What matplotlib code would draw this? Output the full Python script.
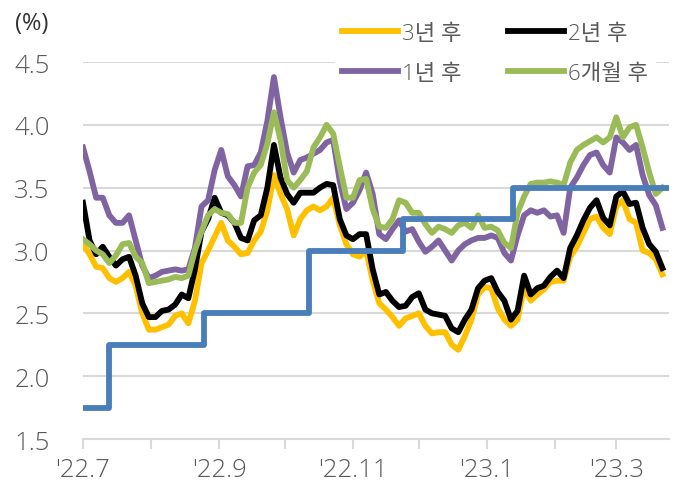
import matplotlib
matplotlib.use('Agg')
import matplotlib.pyplot as plt
import pandas as pd

plt.rcParams['font.family'] = ['Open Sans', 'Noto Sans CJK KR', 'DejaVu Sans']
plt.rcParams['font.weight'] = 'light'

#======================= data =======================
dates = pd.date_range('2022-07-01', periods=89, freq='3D')

y3 = [3.05, 2.97, 2.87, 2.86, 2.78, 2.75, 2.78, 2.83, 2.72, 2.50,
      2.37, 2.37, 2.39, 2.41, 2.48, 2.50, 2.42, 2.60, 2.90, 3.00,
      3.11, 3.22, 3.08, 3.03, 2.97, 2.98, 3.08, 3.15, 3.32, 3.60,
      3.45, 3.33, 3.12, 3.25, 3.32, 3.35, 3.32, 3.35, 3.42, 3.20,
      3.05, 2.97, 2.95, 3.00, 2.76, 2.58, 2.53, 2.47, 2.40, 2.46,
      2.48, 2.50, 2.40, 2.34, 2.35, 2.35, 2.25, 2.21, 2.32, 2.45,
      2.65, 2.71, 2.70, 2.54, 2.45, 2.40, 2.45, 2.71, 2.60, 2.65,
      2.69, 2.75, 2.76, 2.76, 2.95, 3.03, 3.14, 3.25, 3.27, 3.18,
      3.13, 3.35, 3.40, 3.25, 3.22, 3.00, 2.98, 2.93, 2.81]

y2 = [3.38, 3.08, 2.97, 3.03, 2.95, 2.88, 2.93, 2.95, 2.80, 2.58,
      2.47, 2.47, 2.52, 2.53, 2.57, 2.65, 2.62, 2.85, 3.15, 3.25,
      3.42, 3.30, 3.28, 3.22, 3.10, 3.08, 3.24, 3.28, 3.50, 3.84,
      3.58, 3.45, 3.38, 3.46, 3.46, 3.46, 3.50, 3.53, 3.52, 3.25,
      3.12, 3.09, 3.13, 3.13, 2.85, 2.65, 2.67, 2.60, 2.55, 2.56,
      2.63, 2.66, 2.53, 2.50, 2.49, 2.48, 2.38, 2.35, 2.45, 2.53,
      2.70, 2.76, 2.78, 2.67, 2.60, 2.45, 2.52, 2.80, 2.65, 2.70,
      2.72, 2.79, 2.84, 2.78, 3.02, 3.12, 3.24, 3.34, 3.40, 3.26,
      3.20, 3.43, 3.47, 3.37, 3.38, 3.18, 3.05, 2.99, 2.86]

y1 = [3.82, 3.63, 3.42, 3.42, 3.28, 3.22, 3.22, 3.28, 3.08, 2.88,
      2.78, 2.80, 2.83, 2.84, 2.85, 2.84, 2.85, 3.02, 3.35, 3.40,
      3.64, 3.80, 3.59, 3.52, 3.43, 3.67, 3.68, 3.78, 4.03, 4.38,
      4.06, 3.78, 3.62, 3.72, 3.74, 3.77, 3.80, 3.86, 3.88, 3.55,
      3.33, 3.38, 3.48, 3.62, 3.45, 3.13, 3.09, 3.17, 3.24, 3.15,
      3.17, 3.07, 2.99, 3.03, 3.08, 3.00, 2.92, 3.00, 3.05, 3.08,
      3.10, 3.10, 3.12, 3.10, 2.98, 2.92, 3.12, 3.28, 3.32, 3.30,
      3.32, 3.27, 3.28, 3.14, 3.50, 3.58, 3.68, 3.76, 3.78, 3.68,
      3.62, 3.90, 3.86, 3.80, 3.84, 3.60, 3.44, 3.36, 3.18]

m6 = [3.09, 3.05, 3.00, 2.97, 2.90, 2.96, 3.05, 3.06, 2.95, 2.90,
      2.74, 2.75, 2.76, 2.77, 2.79, 2.78, 2.80, 3.00, 3.15, 3.28,
      3.33, 3.30, 3.29, 3.22, 3.22, 3.50, 3.62, 3.68, 3.85, 4.10,
      3.88, 3.56, 3.50, 3.56, 3.63, 3.82, 3.90, 4.00, 3.93, 3.67,
      3.42, 3.42, 3.56, 3.57, 3.33, 3.19, 3.18, 3.25, 3.40, 3.38,
      3.30, 3.30, 3.21, 3.14, 3.19, 3.17, 3.14, 3.20, 3.22, 3.18,
      3.28, 3.18, 3.19, 3.16, 3.06, 3.02, 3.30, 3.43, 3.53, 3.54,
      3.54, 3.55, 3.54, 3.52, 3.70, 3.80, 3.84, 3.87, 3.90, 3.86,
      3.90, 4.06, 3.90, 3.98, 4.00, 3.82, 3.62, 3.45, 3.50]

# base rate steps
rate_dates = pd.to_datetime(['2022-07-01', '2022-07-13', '2022-08-25', '2022-10-12',
                             '2022-11-24', '2023-01-13', '2023-03-25'])
rate = [1.75, 2.25, 2.50, 3.00, 3.25, 3.50, 3.50]

month_ticks = pd.date_range('2022-07-01', '2023-03-01', freq='MS')
month_labels = ["'22.7", '', "'22.9", '', "'22.11", '', "'23.1", '', "'23.3"]
#===========================================================================

grey = '#595959'
lw = 4.2

fig = plt.figure(figsize=(6.78, 5.02), dpi=100)
ax = fig.add_axes([0.1224, 0.1235, 0.8643, 0.751])

l3, = ax.plot(dates, y3, color='#FFC000', lw=lw, label='3년 후', zorder=2)
l2, = ax.plot(dates, y2, color='black', lw=lw, label='2년 후', zorder=3)
l1, = ax.plot(dates, y1, color='#8064A2', lw=lw, label='1년 후', zorder=4)
l6, = ax.plot(dates, m6, color='#9BBB59', lw=lw, label='6개월 후', zorder=5)
ax.plot(rate_dates, rate, color='#4A7EBB', lw=lw, drawstyle='steps-post', zorder=6)

ax.set_ylim(1.5, 4.5)
ax.set_yticks([1.5, 2.0, 2.5, 3.0, 3.5, 4.0, 4.5])
ax.set_xlim(pd.Timestamp('2022-07-01'), pd.Timestamp('2023-03-25'))
ax.set_xticks(month_ticks)
ax.set_xticklabels(month_labels)

ax.grid(axis='y', color='#D9D9D9', lw=1.5, zorder=0)
for s in ['left', 'right', 'top']:
    ax.spines[s].set_visible(False)
ax.spines['bottom'].set_color('#D9D9D9')
ax.spines['bottom'].set_linewidth(1.5)
ax.tick_params(axis='y', length=0, labelsize=18.5, labelcolor=grey, pad=24)
ax.tick_params(axis='x', length=7, width=1.5, color='#D9D9D9', labelsize=18.5,
               labelcolor=grey, pad=6)

fig.text(0.022, 0.953, '(%)', fontsize=17, color='#333333', va='center',
         fontweight='normal')

leg = ax.legend([l3, l1, l2, l6], ['3년 후', '1년 후', '2년 후', '6개월 후'],
                ncol=2, loc='upper right', bbox_to_anchor=(0.995, 1.15),
                frameon=True, fontsize=16, handlelength=2.5, handletextpad=0.2,
                columnspacing=2.1, labelspacing=0.85, borderpad=0.3)
leg.get_frame().set_facecolor('white')
leg.get_frame().set_edgecolor('white')
leg.get_frame().set_alpha(1)
for t in leg.get_texts():
    t.set_color(grey)

plt.savefig('out.png', dpi=100)
